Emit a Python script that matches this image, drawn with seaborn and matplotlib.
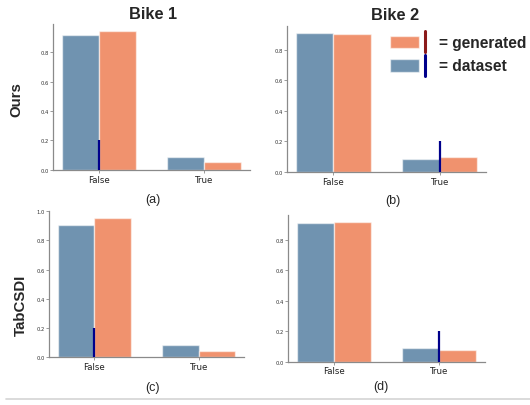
import matplotlib
matplotlib.use("Agg")
import matplotlib.pyplot as plt
from matplotlib.patches import Rectangle
from matplotlib.lines import Line2D
import seaborn as sns
import pandas as pd

# ---------------- data ----------------
categories = ["False", "True"]
sources = ["dataset", "generated"]
col_titles = ["Bike 1", "Bike 2"]
row_titles = ["Ours", "TabCSDI"]
panel_labels = ["(a)", "(b)", "(c)", "(d)"]

ours_bike1_dataset = [0.915, 0.086]
ours_bike1_generated = [0.945, 0.053]
ours_bike2_dataset = [0.913, 0.085]
ours_bike2_generated = [0.902, 0.098]
tabcsdi_bike1_dataset = [0.910, 0.083]
tabcsdi_bike1_generated = [0.953, 0.041]
tabcsdi_bike2_dataset = [0.914, 0.088]
tabcsdi_bike2_generated = [0.921, 0.079]

marker_category = ["False", "True", "False", "True"]
marker_height = [0.2, 0.2, 0.2, 0.2]

panel_values = [
    (ours_bike1_dataset, ours_bike1_generated),
    (ours_bike2_dataset, ours_bike2_generated),
    (tabcsdi_bike1_dataset, tabcsdi_bike1_generated),
    (tabcsdi_bike2_dataset, tabcsdi_bike2_generated),
]

# ---------------- style ----------------
BLUE = "#7093b0"
ORANGE = "#f0926e"
NAVY = "#00008b"
DARKRED = "#8b1a1a"
SPINE = "#8a8a8a"

sns.set_style("white")
plt.rcParams["font.family"] = ["DejaVu Sans"]

fig = plt.figure(figsize=(5.30, 4.06), dpi=100)

# axes rectangles (left, bottom, width, height) in figure fractions
rects = [
    (0.100, 0.579, 0.372, 0.360),
    (0.5415, 0.574, 0.3755, 0.360),
    (0.0925, 0.119, 0.368, 0.358),
    (0.543, 0.107, 0.373, 0.362),
]

for i, (rect, (ds, gen)) in enumerate(zip(rects, panel_values)):
    ax = fig.add_axes(rect)
    df = pd.DataFrame({
        "value": categories * 2,
        "proportion": list(ds) + list(gen),
        "source": [sources[0]] * len(categories) + [sources[1]] * len(categories),
    })
    sns.barplot(data=df, x="value", y="proportion", hue="source",
                hue_order=sources, order=categories,
                palette=[BLUE, ORANGE], width=0.7, saturation=1,
                edgecolor=(1, 1, 1, 0.55), linewidth=1.0,
                legend=False, ax=ax)
    xpos = categories.index(marker_category[i])
    ax.vlines(xpos, 0, marker_height[i], color=NAVY, lw=1.6, zorder=5)
    ax.set_xlim(-0.435, 1.435)
    ax.set_xlabel("")
    ax.set_ylabel("")
    sns.despine(ax=ax)
    for s in ("left", "bottom"):
        ax.spines[s].set_color(SPINE)
        ax.spines[s].set_linewidth(0.9)
    ax.tick_params(axis="y", labelsize=3.8, length=2, width=0.6,
                   color=SPINE, labelcolor="#333333", pad=1, left=True)
    ax.tick_params(axis="x", labelsize=6.2, length=2, width=0.6,
                   color=SPINE, labelcolor="#222222", pad=1.5, bottom=True)

# column titles
title_font = dict(family=["Liberation Sans", "DejaVu Sans"], fontweight="bold")
fig.text(0.289, 0.965, col_titles[0], ha="center", va="center", fontsize=11.8, **title_font)
fig.text(0.745, 0.963, col_titles[1], ha="center", va="center", fontsize=11.8, **title_font)

# row titles
fig.text(0.030, 0.756, row_titles[0], ha="center", va="center", rotation=90, fontsize=10.8, **title_font)
fig.text(0.0387, 0.249, row_titles[1], ha="center", va="center", rotation=90, fontsize=10.8, **title_font)

# panel labels
lab_font = dict(family=["Liberation Sans", "DejaVu Sans"], fontsize=9)
fig.text(0.289, 0.507, panel_labels[0], ha="center", va="center", **lab_font)
fig.text(0.7415, 0.505, panel_labels[1], ha="center", va="center", **lab_font)
fig.text(0.287, 0.0455, panel_labels[2], ha="center", va="center", **lab_font)
fig.text(0.718, 0.047, panel_labels[3], ha="center", va="center", **lab_font)

# custom legend
legend_items = [(ORANGE, DARKRED, "= generated", 0.8786, 0.8702, 0.9212, 0.894),
                (BLUE, NAVY, "= dataset", 0.8209, 0.8111, 0.862, 0.8374)]
for face, line_c, label, y0, ly0, ly1, ty in legend_items:
    fig.add_artist(Rectangle((0.7358, y0), 0.0553, 0.031, transform=fig.transFigure,
                             facecolor=face, edgecolor=(1, 1, 1, 0.55), lw=1.0))
    fig.add_artist(Line2D([0.8013, 0.8013], [ly0, ly1], transform=fig.transFigure,
                          color=line_c, lw=2.2))
    fig.text(0.8283, ty, label, ha="left", va="center", fontsize=11.2, **title_font)

# bottom separator line
fig.add_artist(Line2D([0.011, 1.0], [0.0145, 0.0145], transform=fig.transFigure,
                      color="#d4d4d4", lw=1.2))

fig.savefig("out.png", dpi=100, facecolor="white")
